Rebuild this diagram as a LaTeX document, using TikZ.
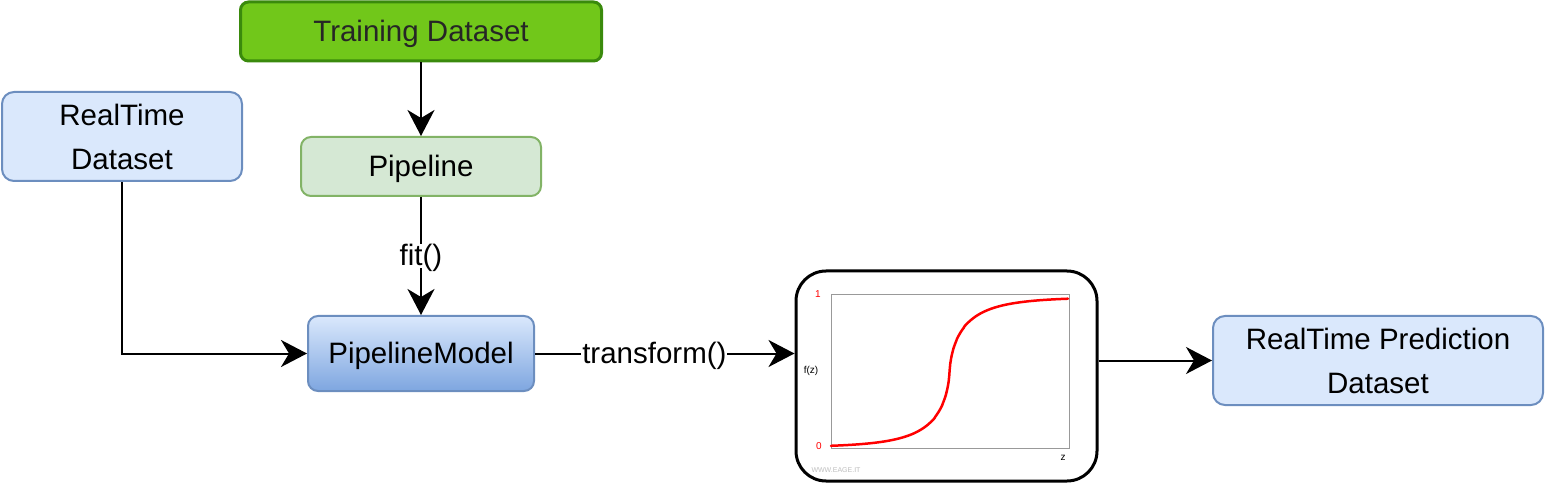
\documentclass[tikz,border=0pt]{standalone}
\usepackage{fontspec}
\setmainfont{Liberation Sans}
\usepackage{tikz}
\usetikzlibrary{arrows.meta, positioning}
\usepackage{xcolor}
\definecolor{traingreen}{HTML}{71C71A}
\definecolor{trainline}{HTML}{3A8A0C}
\definecolor{pipefill}{HTML}{D5E8D4}
\definecolor{pipeline}{HTML}{82B366}
\definecolor{setfill}{HTML}{DAE8FC}
\definecolor{setline}{HTML}{6C8EBF}
\definecolor{modelbottom}{HTML}{7EA6E0}
\definecolor{framegray}{HTML}{999999}
\newcommand\boxfont{\fontsize{29.5}{44}\selectfont}
\tikzstyle{training} = [rectangle, rounded corners=8pt, minimum width=361pt,
minimum height=59pt, text centered, draw=trainline, line width=3pt,
fill=traingreen, text=black!85, font=\boxfont, text height=21pt, text depth=1pt]
\tikzstyle{pipe} = [rectangle, rounded corners=10pt, minimum width=240pt,
minimum height=59pt, text centered, draw=pipeline, line width=2pt,
fill=pipefill, font=\boxfont, text height=21pt, text depth=1pt]
\tikzstyle{dataset} = [rectangle, rounded corners=12pt, minimum width=240pt,
minimum height=89pt, align=center, draw=setline, line width=2pt,
fill=setfill, font=\boxfont]
\tikzstyle{model} = [rectangle, rounded corners=10pt, minimum width=226pt,
minimum height=75pt, text centered, draw=setline, line width=2pt,
top color=setfill, bottom color=modelbottom, font=\boxfont,
text height=21pt, text depth=1pt]
\tikzstyle{plotbox} = [rectangle, rounded corners=30pt, minimum width=301pt,
minimum height=210pt, draw=black, line width=3pt, fill=white]
\tikzstyle{arrow} = [line width=2pt,-{Stealth[length=26pt,width=27pt,inset=8pt]}]
\tikzstyle{edgelabel} = [fill=white, inner sep=1pt, font=\boxfont,
text height=21pt, text depth=1pt]
\tikzstyle{tick} = [font=\fontsize{10}{12}\selectfont]

\begin{document}
\begin{tikzpicture}[x=1pt, y=-1pt]
  \useasboundingbox (0,0) rectangle (1545,486);
  % Nodes of the workflow
  \node (train) [training] at (421,31.5) {Training Dataset};
  \node (pipe) [pipe] at (421,166.5) {Pipeline};
  \node (rtdata) [dataset] at (122,136.5) {RealTime\\Dataset};
  \node (model) [model] at (421,353.5) {PipelineModel};
  \node (sig) [plotbox] at (946.5,376) {};
  \node (pred) [dataset, minimum width=330pt] at (1378,360.5)
               {RealTime Prediction\\Dataset};
  % Sigmoid plot inside the box
  \draw [framegray, line width=1pt] (831,295) rectangle (1069,448);
  \draw [red, line width=2.5pt, line cap=round]
        plot[domain=-1:-0.0002, samples=160, variable=\u]
          ({949.5+118.5*\u},{447.5-75.25*exp(-3.78*pow(-(\u),0.68))})
        -- plot[domain=0.0002:1, samples=160, variable=\u]
          ({949.5+118.5*\u},{297+75.25*exp(-3.78*pow(\u,0.68))});
  \node (one) [tick, red] at (818,294) {1};
  \node (zero) [tick, red] at (819,446) {0};
  \node (fz) [tick] at (811,371) {f(z)};
  \node (zlab) [tick] at (1063,458) {z};
  \node (site) [black!25, font=\fontsize{7}{8}\selectfont] at (836,470)
               {WWW.EAGE.IT};
  % Connections
  \draw [arrow] (train) -- (pipe);
  \draw [arrow] (pipe) -- node[edgelabel] {fit()} (model);
  \draw [arrow] (rtdata) |- (model);
  \draw [arrow] (model) -- node[edgelabel, pos=0.46] {transform()}
                (sig.west |- model);
  \draw [arrow] (sig.east |- pred) -- (pred);
\end{tikzpicture}
\end{document}
